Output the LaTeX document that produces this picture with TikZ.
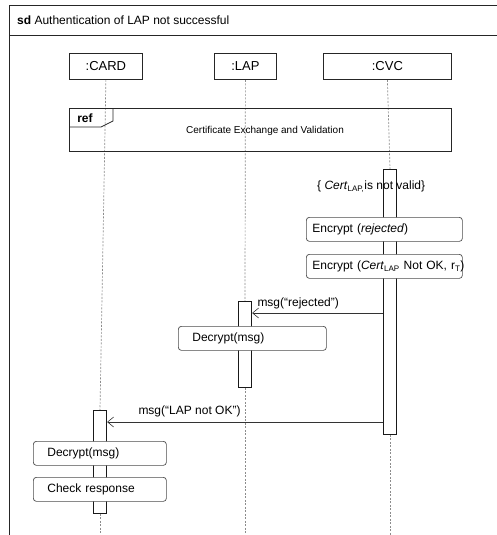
\documentclass[tikz,border=0pt]{standalone}
\usepackage{fontspec}
\setmainfont{Liberation Sans}
\usetikzlibrary{arrows.meta}
\pgfdeclarelayer{background}
\pgfsetlayers{background,main}
\begin{document}
\begin{tikzpicture}[x=1pt,y=-1pt,
  every node/.style={font=\fontsize{12}{14}\selectfont},
  frameline/.style={draw=black!85, line width=0.8pt},
  headbox/.style={draw=black!85, line width=0.8pt, fill=white, minimum height=26pt, anchor=north west, inner sep=0pt, font=\fontsize{13}{15}\selectfont},
  lifeline/.style={draw=black!45, line width=0.7pt, dash pattern=on 2pt off 1.5pt},
  actbar/.style={draw=black!90, line width=0.8pt, fill=white, minimum width=13.5pt, anchor=north, inner sep=0pt},
  actionbox/.style={draw=black!70, line width=0.7pt, fill=white, rounded corners=3pt, minimum height=24pt, inner ysep=0pt, align=left, anchor=north west},
  msgarrow/.style={draw=black!80, line width=0.7pt, -{Straight Barb[length=6pt,width=10pt,line width=0.6pt]}}
]
\useasboundingbox (0,0) rectangle (497,535);

% sd frame: open at the right and at the bottom
\draw[frameline] (9,535) -- (9,5) -- (497,5);
\draw[frameline] (9,35) -- (497,35);
\node[anchor=west, inner sep=0pt] (title) at (17,20) {\textbf{sd} Authentication of LAP not successful};

% lifeline heads
\node[headbox, minimum width=73pt] (card) at (69,53) {:CARD};
\node[headbox, minimum width=62pt] (lap) at (214,53) {:LAP};
\node[headbox, minimum width=128pt] (cvc) at (323,53) {:CVC};

% activation bars
\node[actbar, minimum height=265pt] (cvcact) at (390,169) {};
\node[actbar, minimum height=86pt] (lapact) at (245,301) {};
\node[actbar, minimum height=103pt] (cardact) at (100,410) {};

% lifeline ends
\coordinate (cardend) at (100,535);
\coordinate (lapend) at (245,535);
\coordinate (cvcend) at (390,535);

% lifelines, kept below the bars
\begin{pgfonlayer}{background}
\draw[lifeline] (card.south) -- (cardact.north);
\draw[lifeline] (cardact.south) -- (cardend);
\draw[lifeline] (lap.south) -- (lapact.north);
\draw[lifeline] (lapact.south) -- (lapend);
\draw[lifeline] (cvc.south) -- (cvcact.north);
\draw[lifeline] (cvcact.south) -- (cvcend);
\end{pgfonlayer}

% interaction use
\node[draw=black!85, line width=0.8pt, minimum width=382pt, minimum height=43pt, anchor=north west, inner sep=0pt] (ref) at (69,108) {};
\draw[frameline] (69,127) -- (101,127) -- (113,121) -- (113,108);
\node[inner sep=0pt] (reflabel) at (85,118) {\textbf{ref}};
\node[inner sep=0pt, font=\fontsize{10}{12}\selectfont] (refname) at (265,131) {Certificate Exchange and Validation};

% guard on the CVC lifeline
\node[anchor=west, inner sep=0pt] (guard) at (317,187) {\{ \textit{Cert}\textsubscript{LAP,}is not valid\}};

% CVC actions
\node[actionbox, text width=144pt, inner xsep=6pt] (enc1) at (306,217) {Encrypt (\textit{rejected})};
\node[actionbox, text width=144pt, inner xsep=6pt] (enc2) at (306,254) {\mbox{Encrypt (\textit{Cert}\textsubscript{LAP} Not OK, r\textsubscript{T})}};

% messages
\coordinate (m1) at (0,313);
\coordinate (m2) at (0,422);
\draw[msgarrow] (cvcact.west |- m1) -- (lapact.east |- m1)
  node[anchor=south west, inner sep=0pt, xshift=5pt, yshift=4pt] (m1label) {msg(“rejected”)};
\draw[msgarrow] (cvcact.west |- m2) -- (cardact.east |- m2)
  node[anchor=south west, inner sep=0pt, xshift=31pt, yshift=5pt] (m2label) {msg(“LAP not OK”)};

% LAP and CARD actions
\node[actionbox, text width=120pt, inner xsep=14pt] (dec1) at (178,326) {Decrypt(msg)};
\node[actionbox, text width=105pt, inner xsep=14pt] (dec2) at (33,441) {Decrypt(msg)};
\node[actionbox, text width=105pt, inner xsep=14pt] (check) at (33,477) {Check response};
\end{tikzpicture}
\end{document}
